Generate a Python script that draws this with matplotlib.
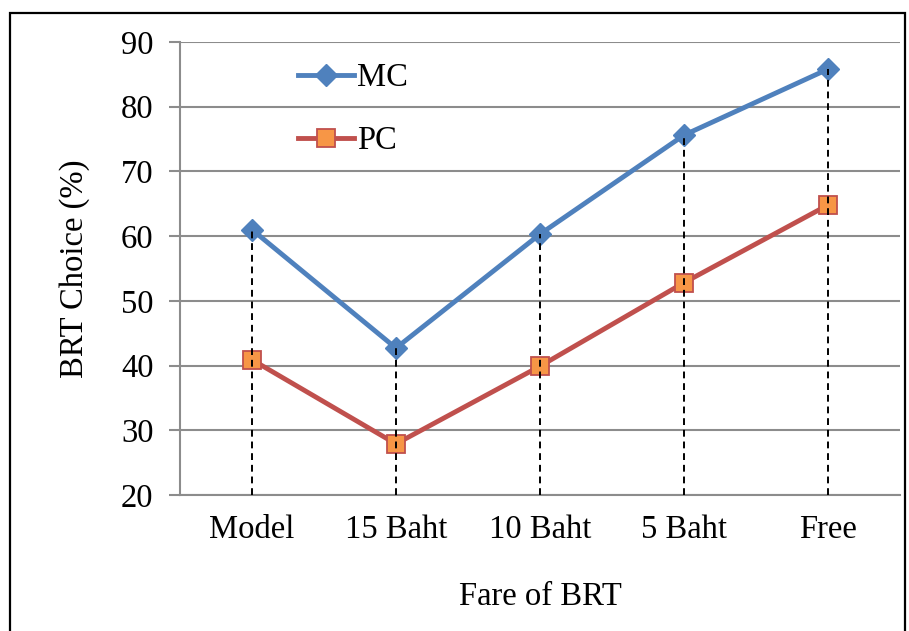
import numpy as np
import matplotlib.pyplot as plt
from matplotlib.patches import Rectangle

plt.rcParams['font.family'] = ['Liberation Serif', 'DejaVu Serif']

# Datos: elección del BRT (%) según la tarifa
categorias = ['Model', '15 Baht', '10 Baht', '5 Baht', 'Free']
mc = [61.0, 42.7, 60.3, 75.6, 85.8]
pc = [40.9, 27.9, 39.9, 52.8, 64.8]

fs = 23.5
fig = plt.figure(figsize=(9.09, 6.31), dpi=100)
ax = fig.add_axes([0.198, 0.2155, 0.792, 0.718])

x = np.arange(len(categorias))
gris = '#8c8c8c'

# Líneas de caída desde el valor más alto hasta el eje
ax.vlines(x, 20, np.maximum(mc, pc), colors='k', linestyles=(0, (3.5, 2.5)),
          linewidth=1.4, zorder=5)

ax.plot(x, mc, color='#4f81bd', linewidth=3.5, marker='D', markersize=11,
        markerfacecolor='#4f81bd', markeredgecolor='#4f81bd', label='MC', zorder=3)
ax.plot(x, pc, color='#c0504d', linewidth=3.5, marker='s', markersize=12.5,
        markerfacecolor='#f79646', markeredgecolor='#c0504d', markeredgewidth=1.3,
        label='PC', zorder=3)

ax.set_xlim(-0.5, len(categorias) - 0.5)
ax.set_ylim(20, 90)
ax.set_yticks(np.arange(20, 91, 10))
ax.set_xticks(x)
ax.set_xticklabels(categorias)
ax.tick_params(axis='x', length=0, labelsize=fs, pad=14)
ax.tick_params(axis='y', length=8, width=1.5, color=gris, labelsize=fs, pad=11)
ax.grid(axis='y', color=gris, linewidth=1.5)
ax.set_axisbelow(True)
for lado in ['top', 'right']:
    ax.spines[lado].set_visible(False)
ax.spines['left'].set_color(gris)
ax.spines['left'].set_linewidth(1.5)
ax.spines['bottom'].set_color(gris)
ax.spines['bottom'].set_linewidth(1.5)

ax.set_xlabel('Fare of BRT', fontsize=fs, labelpad=26)
ax.set_ylabel('BRT Choice (%)', fontsize=fs, labelpad=22)

ax.legend(loc='upper left', bbox_to_anchor=(0.1415, 0.99), frameon=False,
          fontsize=fs, handlelength=1.7, handletextpad=0.1, labelspacing=1.0,
          borderpad=0)

# Marco negro alrededor de la figura
fig.patches.append(Rectangle((0.011, -0.1), 0.985, 1.079, transform=fig.transFigure,
                             fill=False, edgecolor='k', linewidth=1.6))

plt.savefig('out.png')
